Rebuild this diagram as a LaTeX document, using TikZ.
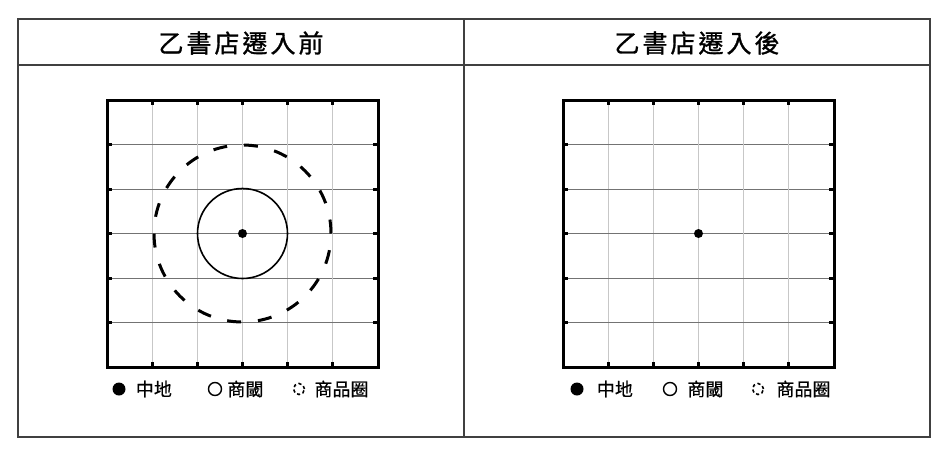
\documentclass[tikz,border=0pt]{standalone}
\usepackage{fontspec}
\newfontfamily\cjk[FakeBold=0.6]{Noto Sans CJK TC}
\newfontfamily\cjktitle[LetterSpace=12,FakeBold=1.2]{Noto Sans CJK TC}
\usetikzlibrary{positioning}

\begin{document}
\begin{tikzpicture}[x=1pt,y=-1pt,
      frame/.style={draw=black!75,line width=1.4pt},
      title/.style={font=\cjktitle\fontsize{25}{25}\selectfont,inner sep=0pt},
      lbl/.style={font=\cjk\fontsize{18}{18}\selectfont,inner sep=0pt},
      box/.style={draw=black,line width=3pt},
      vgrid/.style={draw=black!22,line width=0.9pt},
      hgrid/.style={draw=black!55,line width=0.9pt},
      tick/.style={draw=black,line width=3pt},
      ring/.style={draw=black,line width=1.6pt},
      zone/.style={draw=black,line width=3pt,dash pattern=on 14pt off 16.9pt},
      mkfill/.style={circle,fill=black,minimum size=13pt,inner sep=0pt},
      mkring/.style={circle,draw=black,line width=1.4pt,minimum size=13pt,inner sep=0pt},
      mkzone/.style={circle,draw=black,line width=1.6pt,dash pattern=on 3.2pt off 2.6pt,minimum size=11pt,inner sep=0pt}]
      \useasboundingbox (0,0) rectangle (950,456);
      % table
      \draw[frame] (18,19) rectangle (930,437);
      \draw[frame] (18,65) -- (930,65);
      \draw[frame] (464,19) -- (464,437);
      \node[title] (tl) at (241,43) {乙書店遷入前};
      \node[title] (tr) at (697,43) {乙書店遷入後};
      % grids
      \foreach \px/\nm in {107/L,563/R}{
        \begin{scope}[shift={(\px,100)}]
          \foreach \i in {1,...,5}{
            \draw[vgrid] (\i*45.17,0) -- (\i*45.17,267);
            \draw[hgrid] (0,\i*44.5) -- (271,\i*44.5);
            \draw[tick] (\i*45.17,0) -- (\i*45.17,5);
            \draw[tick] (\i*45.17,267) -- (\i*45.17,262);
            \draw[tick] (0,\i*44.5) -- (5,\i*44.5);
            \draw[tick] (271,\i*44.5) -- (266,\i*44.5);
          }
          \draw[box] (0,0) rectangle (271,267);
          \coordinate (c\nm) at (135.5,133.5);
        \end{scope}
        \fill (c\nm) circle (4.5pt);
      }
      \draw[ring] (cL) circle (45pt);
      \draw[zone] (cL) circle (88.5pt);
      % legend
      \node[mkfill] (kL) at (119,389) {};
      \node[lbl,right=10pt of kL] (kLt) {中地};
      \node[mkring] (sL) at (215,389) {};
      \node[lbl,right=5pt of sL] (sLt) {商閾};
      \node[mkzone] (zL) at (299,389) {};
      \node[lbl,right=9pt of zL] (zLt) {商品圈};
      \node[mkfill] (kR) at (577,389) {};
      \node[lbl,right=13pt of kR] (kRt) {中地};
      \node[mkring] (sR) at (670,389) {};
      \node[lbl,right=10pt of sR] (sRt) {商閾};
      \node[mkzone] (zR) at (758,389) {};
      \node[lbl,right=12pt of zR] (zRt) {商品圈};
\end{tikzpicture}
\end{document}
